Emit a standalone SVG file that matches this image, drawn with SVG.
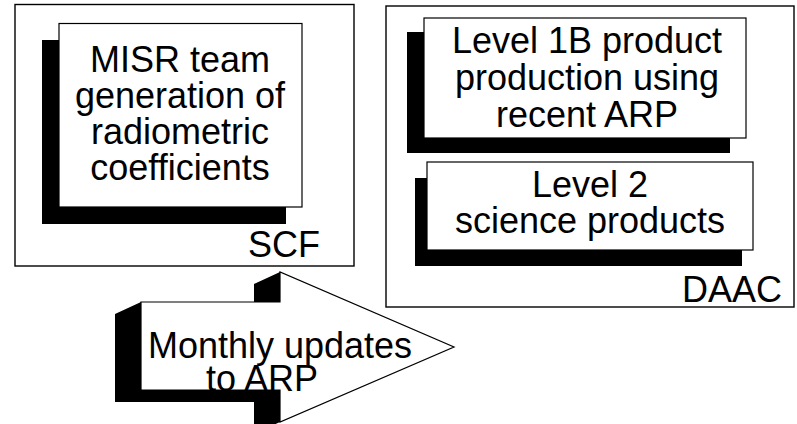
<svg xmlns="http://www.w3.org/2000/svg" width="797" height="424" viewBox="0 0 797 424">
<style>
.frame{fill:#fff;stroke:#000;stroke-width:1.4}
.box{fill:#fff;stroke:#000;stroke-width:1.2}
.shadow{fill:#000;stroke:none}
text{font-family:"Liberation Sans",Arial,sans-serif;font-size:36px;fill:#000}
.c{text-anchor:middle}
.e{text-anchor:end}
</style>
<rect width="797" height="424" fill="#fff"/>
<g id="scf">
<rect class="frame" x="15" y="4.5" width="339" height="261.5"/>
<text class="e" x="320" y="257">SCF</text>
</g>
<g id="daac">
<rect class="frame" x="386" y="6" width="408" height="301"/>
<text class="e" x="782" y="302">DAAC</text>
</g>
<g id="misr">
<rect class="shadow" x="42" y="40" width="244" height="184"/>
<rect class="box" x="59" y="23.5" width="243" height="183.5"/>
<text class="c" x="180" y="72">MISR team</text>
<text class="c" x="180" y="108">generation of</text>
<text class="c" x="180" y="144">radiometric</text>
<text class="c" x="180" y="180">coefficients</text>
</g>
<g id="level1b">
<rect class="shadow" x="407" y="32" width="323" height="121"/>
<rect class="box" x="424" y="18" width="322" height="120"/>
<text class="c" x="587" y="53">Level 1B product</text>
<text class="c" x="587" y="90">production using</text>
<text class="c" x="587" y="127">recent ARP</text>
</g>
<g id="level2">
<rect class="shadow" x="415" y="178" width="327" height="88"/>
<rect class="box" x="427" y="162" width="326" height="88"/>
<text class="c" x="590" y="197">Level 2</text>
<text class="c" x="590" y="233">science products</text>
</g>
<g id="connectors">
<g id="arrow">
<polygon class="shadow" points="141,302 115,314 115,402 254,402 254,434 280,422 280,272 254,284 254,302"/>
<polygon class="box" points="141,302 280,302 280,272 454,347 280,422 280,390 141,390"/>
<text class="c" x="280" y="358">Monthly updates</text>
<text class="c" x="262" y="391">to ARP</text>
</g>
</g>
</svg>
